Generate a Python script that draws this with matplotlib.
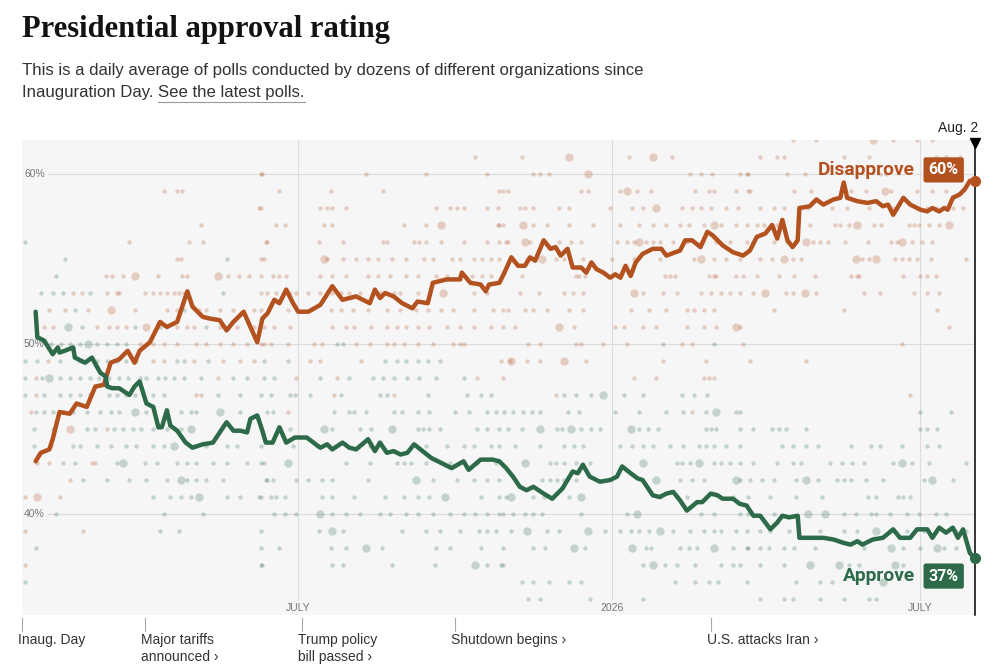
import matplotlib.pyplot as plt
from matplotlib.lines import Line2D

# x values are days since Inauguration Day (Jan. 20, 2025); Aug. 2, 2026 = day 559
disapprove_days = [8, 11, 16, 18, 22, 28, 32, 38, 43, 48, 52, 57, 62, 66, 69, 75, 81, 85, 91, 94, 97, 100,
                   106, 110, 116, 120, 124, 130, 134, 138, 141, 144, 148, 151, 155, 159, 162, 168, 175, 182,
                   188, 196, 204, 207, 210, 213, 218, 223, 229, 232, 238, 241, 249, 257, 258, 263, 269, 272,
                   274, 280, 283, 287, 291, 295, 298, 301, 306, 310, 313, 316, 320, 323, 328, 331, 334, 337,
                   341, 345, 348, 351, 354, 357, 360, 364, 370, 375, 378, 386, 389, 393, 398, 402, 405, 411,
                   417, 423, 427, 431, 436, 440, 443, 446, 449, 452, 455, 456, 462, 466, 470, 476, 480, 482,
                   484, 490, 496, 501, 505, 508, 511, 514, 517, 521, 527, 531, 534, 538, 541, 543, 546, 550,
                   553, 556, 559]
disapprove_vals = [43.1, 43.6, 43.8, 44.4, 46.0, 45.9, 46.5, 46.3, 47.5, 47.6, 48.9, 49.1, 49.6, 48.9, 49.6,
                   50.1, 51.3, 51.0, 51.3, 52.2, 53.1, 52.2, 51.6, 51.5, 51.4, 50.8, 51.3, 51.9, 51.0, 50.1,
                   51.5, 51.8, 52.6, 52.4, 53.2, 52.4, 51.9, 51.9, 52.3, 53.4, 52.6, 52.8, 52.4, 53.2, 52.7,
                   53.0, 52.8, 52.4, 52.1, 52.5, 52.4, 53.6, 53.8, 53.8, 54.2, 53.6, 53.5, 53.1, 53.5, 53.6,
                   54.2, 55.1, 54.6, 54.6, 55.1, 54.9, 56.1, 55.6, 55.7, 55.2, 55.6, 54.5, 54.5, 54.2, 54.8,
                   54.4, 54.2, 53.9, 54.1, 53.9, 54.6, 54.0, 54.8, 55.3, 55.6, 55.6, 55.2, 55.5, 56.1, 56.1,
                   55.7, 56.6, 56.4, 55.8, 55.4, 55.2, 55.5, 56.3, 56.5, 57.0, 56.2, 57.3, 56.1, 55.7, 56.1,
                   58.0, 58.1, 58.5, 58.2, 58.5, 58.6, 59.5, 58.6, 58.4, 58.3, 58.4, 58.1, 58.2, 57.6, 58.1,
                   58.6, 58.2, 57.9, 57.8, 58.0, 57.8, 58.0, 57.9, 58.6, 58.8, 59.1, 59.6, 59.6]

approve_days = [8, 9, 13, 18, 21, 22, 25, 30, 31, 37, 41, 46, 49, 50, 53, 57, 63, 66, 69, 73, 77, 80, 82,
                85, 87, 91, 96, 100, 106, 112, 116, 120, 124, 128, 132, 134, 138, 141, 143, 147, 151, 155,
                160, 167, 171, 175, 179, 182, 188, 192, 196, 203, 207, 210, 214, 218, 222, 226, 230, 235,
                240, 246, 252, 259, 262, 269, 276, 280, 284, 288, 292, 296, 300, 306, 311, 317, 323, 326,
                329, 333, 339, 345, 349, 352, 357, 361, 364, 370, 374, 378, 382, 386, 390, 396, 399, 404,
                408, 411, 417, 421, 425, 429, 433, 439, 443, 446, 450, 455, 456, 460, 466, 470, 476, 482,
                486, 490, 493, 499, 505, 511, 515, 521, 525, 531, 534, 538, 542, 546, 549, 552, 556, 559]
approve_vals = [51.9, 50.4, 50.2, 49.4, 49.8, 49.5, 49.6, 49.8, 49.2, 48.9, 49.2, 48.3, 48.1, 47.5, 47.4,
                47.4, 47.0, 47.5, 47.8, 46.5, 46.3, 45.1, 45.1, 46.1, 45.2, 44.9, 44.2, 43.9, 44.1, 44.2,
                44.8, 45.4, 44.9, 44.9, 44.8, 45.6, 45.8, 44.9, 44.2, 44.2, 45.1, 44.2, 44.5, 44.5, 44.2,
                43.9, 44.1, 43.8, 44.2, 43.9, 43.8, 44.4, 43.7, 44.2, 43.6, 43.7, 43.5, 43.6, 44.1, 43.7,
                43.3, 43.0, 42.7, 43.1, 42.6, 43.2, 43.2, 43.1, 42.7, 42.2, 41.6, 41.4, 41.6, 41.2, 40.9,
                41.5, 42.5, 42.4, 42.9, 42.2, 41.9, 42.0, 42.2, 42.8, 42.4, 42.1, 42.0, 41.1, 41.0, 41.2,
                41.3, 40.8, 40.2, 40.7, 40.7, 41.2, 41.1, 40.9, 40.9, 40.6, 40.5, 39.9, 39.9, 39.1, 39.5,
                39.9, 39.8, 39.9, 38.6, 38.6, 38.6, 38.6, 38.5, 38.3, 38.2, 38.4, 38.2, 38.5, 38.6, 39.1,
                38.6, 38.6, 39.1, 39.1, 38.6, 39.2, 38.9, 39.2, 38.6, 39.1, 37.7, 37.4]

# individual polls: rounded result -> days the poll was released
disapprove_polls = {
    62: [452, 466, 511, 525, 534],
    61: [266, 293, 356, 381, 433, 443, 447, 482, 497, 536, 542, 550],
    60: [140, 141, 202, 237, 273, 300, 304, 309, 392, 398, 405, 421, 425, 426, 449, 459, 503, 507, 538],
    59: [83, 91, 94, 151, 181, 212, 280, 282, 285, 328, 332, 351, 361, 369, 395, 403, 406, 419, 426, 427,
         453, 463, 486, 495, 510, 525, 534, 542],
    58: [139, 140, 175, 179, 182, 190, 243, 251, 255, 259, 273, 279, 292, 295, 300, 315, 321, 345, 358, 364,
         387, 393, 398, 404, 413, 420, 433, 441, 447, 461, 475, 484, 497, 511, 513, 531, 536, 546, 552],
    57: [105, 149, 154, 177, 182, 224, 237, 279, 280, 282, 300, 308, 321, 335, 351, 362, 370, 378, 386, 391,
         400, 410, 419, 425, 431, 435, 443, 462, 477, 480, 485, 500, 504, 520, 523, 526, 532, 538],
    56: [63, 98, 106, 143, 144, 174, 188, 212, 214, 230, 233, 237, 246, 259, 273, 280, 284, 285, 298, 306,
         315, 322, 328, 349, 355, 359, 366, 370, 374, 382, 390, 398, 407, 415, 425, 441, 449, 464, 468, 473,
         483, 496, 510, 513, 522, 528, 534],
    55: [91, 93, 140, 142, 179, 188, 196, 203, 209, 217, 225, 236, 241, 252, 257, 265, 270, 275, 280, 296,
         313, 318, 329, 346, 359, 374, 394, 406, 413, 421, 433, 440, 452, 457, 493, 497, 512, 516, 520, 525,
         533, 554],
    54: [49, 53, 59, 80, 94, 97, 121, 127, 133, 140, 147, 151, 155, 175, 182, 190, 203, 209, 216, 225, 232,
         243, 249, 257, 264, 270, 275, 293, 325, 327, 330, 377, 380, 383, 403, 406, 407, 419, 423, 431, 444,
         453, 465, 486, 490, 491, 517, 527, 531, 536],
    53: [30, 35, 50, 56, 57, 72, 77, 81, 85, 89, 92, 95, 140, 144, 149, 154, 157, 161, 168, 175, 179, 182,
         187, 192, 198, 210, 218, 222, 232, 265, 273, 292, 303, 318, 323, 329, 364, 376, 384, 398, 404, 410,
         415, 421, 429, 448, 452, 466, 494, 503, 523, 531, 538],
    52: [16, 25, 39, 66, 85, 91, 104, 108, 116, 124, 136, 140, 156, 181, 187, 194, 203, 214, 222, 231, 238,
         246, 253, 265, 276, 282, 285, 295, 300, 308, 321, 329, 357, 368, 378, 390, 394, 400, 406, 441, 482,
         537],
    51: [13, 18, 44, 51, 56, 61, 91, 97, 101, 116, 126, 136, 142, 148, 157, 182, 190, 195, 205, 214, 220,
         225, 232, 239, 249, 257, 265, 275, 282, 289, 324, 348, 353, 364, 372, 390, 400, 407, 421, 544],
    50: [69, 77, 83, 91, 102, 108, 116, 124, 132, 140, 142, 146, 156, 171, 176, 196, 204, 214, 218, 224,
         232, 241, 253, 257, 259, 297, 304, 325, 328, 341, 355, 387, 393, 423, 516],
    49: [15, 77, 83, 101, 118, 128, 136, 169, 175, 199, 281, 286, 296, 304, 331, 376, 401, 427, 460],
    48: [8, 115, 161, 185, 267, 282, 359, 372, 400, 403, 406],
    47: [8, 102, 105, 183, 218, 313, 521],
    46: [5, 24, 156, 393],
    45: [50],
    44: [17],
    43: [9, 16, 41, 43],
    42: [28],
    41: [2, 22],
    39: [2, 36],
    37: [2],
}
disapprove_big = {
    62: [499], 61: [321, 370], 60: [332], 59: [355, 506], 58: [372], 57: [246, 294, 406, 490, 544],
    56: [295, 362, 460, 516], 55: [177, 305, 398, 447, 489, 501], 54: [66, 115], 53: [247, 359, 436, 459],
    52: [52], 51: [73, 315, 419], 49: [287, 318], 45: [28], 41: [9],
}

approve_polls = {
    56: [2],
    55: [25, 120],
    54: [20],
    53: [11, 18, 24, 40, 118],
    52: [31, 95],
    51: [35, 66, 81, 108],
    50: [17, 23, 28, 34, 44, 50, 56, 61, 185, 188, 376, 406],
    49: [2, 9, 22, 34, 44, 50, 56, 61, 67, 91, 95, 109, 142, 156, 213, 220, 225, 232, 238, 245],
    48: [2, 12, 22, 28, 34, 40, 45, 51, 57, 62, 69, 73, 80, 84, 89, 95, 105, 124, 132, 142, 148, 175, 192,
         206, 212, 218, 226, 233, 243, 259],
    47: [2, 13, 22, 28, 34, 40, 51, 56, 61, 66, 77, 83, 115, 128, 140, 146, 157, 160, 169, 187, 210, 214,
         238, 261, 269, 275, 318, 325, 334, 353, 364, 387, 394, 402],
    46: [8, 13, 18, 30, 38, 46, 52, 57, 73, 85, 93, 99, 102, 128, 144, 147, 183, 192, 195, 202, 218, 223,
         232, 239, 254, 262, 273, 278, 283, 288, 294, 299, 304, 320, 327, 348, 362, 378, 388, 401, 419, 421,
         527, 545],
    45: [7, 18, 38, 43, 54, 59, 65, 70, 77, 85, 93, 151, 157, 182, 198, 205, 232, 235, 239, 245, 267, 273,
         280, 285, 293, 314, 317, 328, 334, 339, 362, 367, 373, 401, 404, 407, 421, 429, 440, 444, 448, 460,
         527, 531, 537],
    44: [7, 30, 34, 44, 52, 61, 67, 77, 83, 101, 108, 120, 126, 140, 159, 173, 204, 237, 249, 259, 265, 275,
         280, 289, 304, 318, 324, 329, 351, 358, 364, 370, 380, 388, 397, 401, 406, 413, 421, 446, 452, 460,
         467, 486, 498, 503, 516, 531, 538],
    43: [24, 31, 56, 72, 79, 91, 97, 102, 112, 120, 132, 140, 142, 190, 204, 220, 224, 228, 237, 251, 267,
         278, 310, 313, 318, 325, 333, 384, 387, 392, 406, 410, 415, 421, 429, 443, 452, 457, 474, 481, 487,
         494, 511, 522, 532, 554],
    42: [36, 50, 63, 73, 85, 97, 102, 108, 118, 143, 144, 147, 161, 168, 176, 182, 203, 241, 255, 265, 273,
         280, 305, 310, 314, 318, 325, 386, 393, 400, 421, 427, 434, 441, 454, 467, 478, 482, 486, 495, 505,
         529, 546],
    41: [77, 87, 93, 99, 120, 128, 139, 140, 146, 149, 154, 176, 182, 195, 213, 224, 232, 239, 269, 280,
         284, 300, 306, 321, 374, 384, 390, 417, 426, 439, 454, 469, 496, 501, 514, 517, 521],
    40: [20, 83, 106, 148, 154, 161, 182, 190, 198, 210, 216, 225, 232, 241, 251, 259, 266, 273, 280, 282,
         288, 295, 300, 305, 328, 355, 398, 406, 421, 426, 441, 482, 489, 498, 501, 509, 519, 526, 536, 542],
    39: [81, 92, 140, 174, 188, 223, 237, 245, 257, 268, 273, 278, 287, 308, 315, 342, 351, 357, 362, 368,
         382, 392, 400, 406, 410, 419, 425, 433, 439, 450, 468, 482, 490, 509, 519, 529, 548, 554],
    38: [8, 140, 151, 181, 190, 211, 243, 251, 269, 282, 300, 307, 330, 366, 369, 386, 391, 396, 417, 425,
         426, 433, 438, 447, 453, 465, 494, 517, 527, 541, 548],
    37: [140, 141, 182, 188, 217, 242, 273, 281, 282, 364, 377, 384, 395, 410, 417, 421, 433, 447, 485, 491,
         517],
    36: [2, 293, 300, 309, 321, 328, 383, 395, 403, 408, 425, 454, 468, 475],
    35: [297, 304, 333, 364, 433, 447, 452, 468, 482, 497, 501],
}
approve_big = {
    51: [27], 50: [39], 48: [16], 47: [341], 46: [66, 116, 407], 45: [99, 177, 217, 304, 322, 357],
    44: [89], 43: [59, 156, 295, 364, 397, 516], 42: [93, 231, 372, 419, 460, 534],
    41: [104, 248, 287, 328], 40: [175, 361, 461, 471], 39: [182, 296, 332, 374, 501],
    38: [202, 324, 358, 406, 510, 537], 37: [266, 370, 462, 479, 512], 36: [505],
}

grid_pcts = [60, 50, 40]
month_days = [162, 346, 527]
month_labels = ['JULY', '2026', 'JULY']
event_days = [0, 72, 164, 254, 404]
event_labels = ['Inaug. Day', 'Major tariffs\nannounced \u203a', 'Trump policy\nbill passed \u203a',
                'Shutdown begins \u203a', 'U.S. attacks Iran \u203a']
last_day = 559

ORANGE = '#b3511f'
GREEN = '#2c6a4a'
W, H = 1000, 671


def px(x, y):
    return x / W, 1 - y / H


plt.rcParams['font.family'] = ['Liberation Sans', 'DejaVu Sans']

fig = plt.figure(figsize=(W / 100, H / 100), dpi=100)
fig.patch.set_facecolor('white')

# plot area: 22..975 px wide, 140..615 px high
ax = fig.add_axes([22 / W, 1 - 615 / H, 953 / W, 475 / H])
ax.set_facecolor('#f6f6f6')
ax.set_xlim(0, last_day)
ax.set_ylim(34.06, 62.0)
for s in ax.spines.values():
    s.set_visible(False)
ax.set_xticks([])
ax.set_yticks([])

for p in grid_pcts:
    ax.plot([15, last_day], [p, p], color='#dcdcdc', lw=0.8, zorder=1)
    ax.text(1.2, p, '%d%%' % p, color='#777777', fontsize=7.5, va='center', ha='left', zorder=1)

for d, lab in zip(month_days, month_labels):
    ax.plot([d, d], [34.95, 62], color='#dcdcdc', lw=0.8, zorder=1)
    ax.text(d, 34.45, lab, color='#777777', fontsize=7.5, ha='center', va='center', zorder=1)


def draw_polls(polls, size, color):
    xs, ys = [], []
    for pct, days in polls.items():
        xs += days
        ys += [pct] * len(days)
    ax.scatter(xs, ys, s=size, color=color, alpha=0.25, linewidths=0, zorder=2)


draw_polls(disapprove_polls, 10, ORANGE)
draw_polls(disapprove_big, 36, ORANGE)
draw_polls(approve_polls, 10, GREEN)
draw_polls(approve_big, 36, GREEN)

ax.plot(disapprove_days, disapprove_vals, color=ORANGE, lw=3.2, solid_joinstyle='round',
        solid_capstyle='round', zorder=4)
ax.plot(approve_days, approve_vals, color=GREEN, lw=3.2, solid_joinstyle='round',
        solid_capstyle='round', zorder=4)

# current date marker
ax.plot([last_day, last_day], [34.06, 61.8], color='black', lw=1.1, zorder=5, clip_on=False)
ax.plot(last_day, 61.8, marker='v', color='black', ms=7, zorder=6, clip_on=False)
ax.plot(last_day, disapprove_vals[-1], 'o', color=ORANGE, ms=7, zorder=6, clip_on=False)
ax.plot(last_day, approve_vals[-1], 'o', color=GREEN, ms=7, zorder=6, clip_on=False)
fig.text(*px(978, 128), 'Aug. 2', ha='right', va='center', fontsize=10, color='#222222')

# end labels
lab_x = (915 - 22) / 953 * last_day
ax.text(lab_x, 60.24, 'Disapprove', color=ORANGE, fontsize=13.8, fontweight='bold', ha='right',
        va='center', zorder=7, family=['Roboto', 'DejaVu Sans'])
ax.text(lab_x + 8, 60.24, '%d%%' % round(disapprove_vals[-1]), color='white', fontsize=11.5,
        fontweight='bold', ha='left', va='center', zorder=7, family=['Roboto', 'DejaVu Sans'],
        bbox=dict(boxstyle='round,pad=0.32,rounding_size=0.15', fc=ORANGE, ec='none'))
ax.text(lab_x, 36.35, 'Approve', color=GREEN, fontsize=13.8, fontweight='bold', ha='right',
        va='center', zorder=7, family=['Roboto', 'DejaVu Sans'])
ax.text(lab_x + 8, 36.35, '%d%%' % round(approve_vals[-1]), color='white', fontsize=11.5,
        fontweight='bold', ha='left', va='center', zorder=7, family=['Roboto', 'DejaVu Sans'],
        bbox=dict(boxstyle='round,pad=0.32,rounding_size=0.15', fc=GREEN, ec='none'))

# events under the chart
for d, lab in zip(event_days, event_labels):
    x = 22 + d / last_day * 953
    fig.add_artist(Line2D([x / W, x / W], [1 - 618 / H, 1 - 631 / H], color='#aaaaaa', lw=0.8))
    fig.text(*px(x - 4, 633), lab, ha='left', va='top', fontsize=10, color='#333333',
             linespacing=1.25)

# title and subtitle
fig.text(*px(22, 30), 'Presidential approval rating', fontsize=22, fontweight='bold',
         family=['Liberation Serif', 'DejaVu Serif'], color='#121212', va='center', ha='left')
fig.text(*px(22, 70), 'This is a daily average of polls conducted by dozens of different organizations since',
         fontsize=12.1, color='#333333', va='center', ha='left')
t1 = fig.text(*px(22, 93), 'Inauguration Day. ', fontsize=12.1, color='#333333', va='center', ha='left')
renderer = fig.canvas.get_renderer()
bb = t1.get_window_extent(renderer)
x2 = bb.x1 / W
t2 = fig.text(x2, 1 - 93 / H, 'See the latest polls.', fontsize=12.1, color='#333333', va='center',
              ha='left')
bb2 = t2.get_window_extent(renderer)
fig.add_artist(Line2D([bb2.x0 / W, bb2.x1 / W], [1 - 102 / H, 1 - 102 / H], color='#999999', lw=0.8))

fig.savefig('out.png', dpi=100)
